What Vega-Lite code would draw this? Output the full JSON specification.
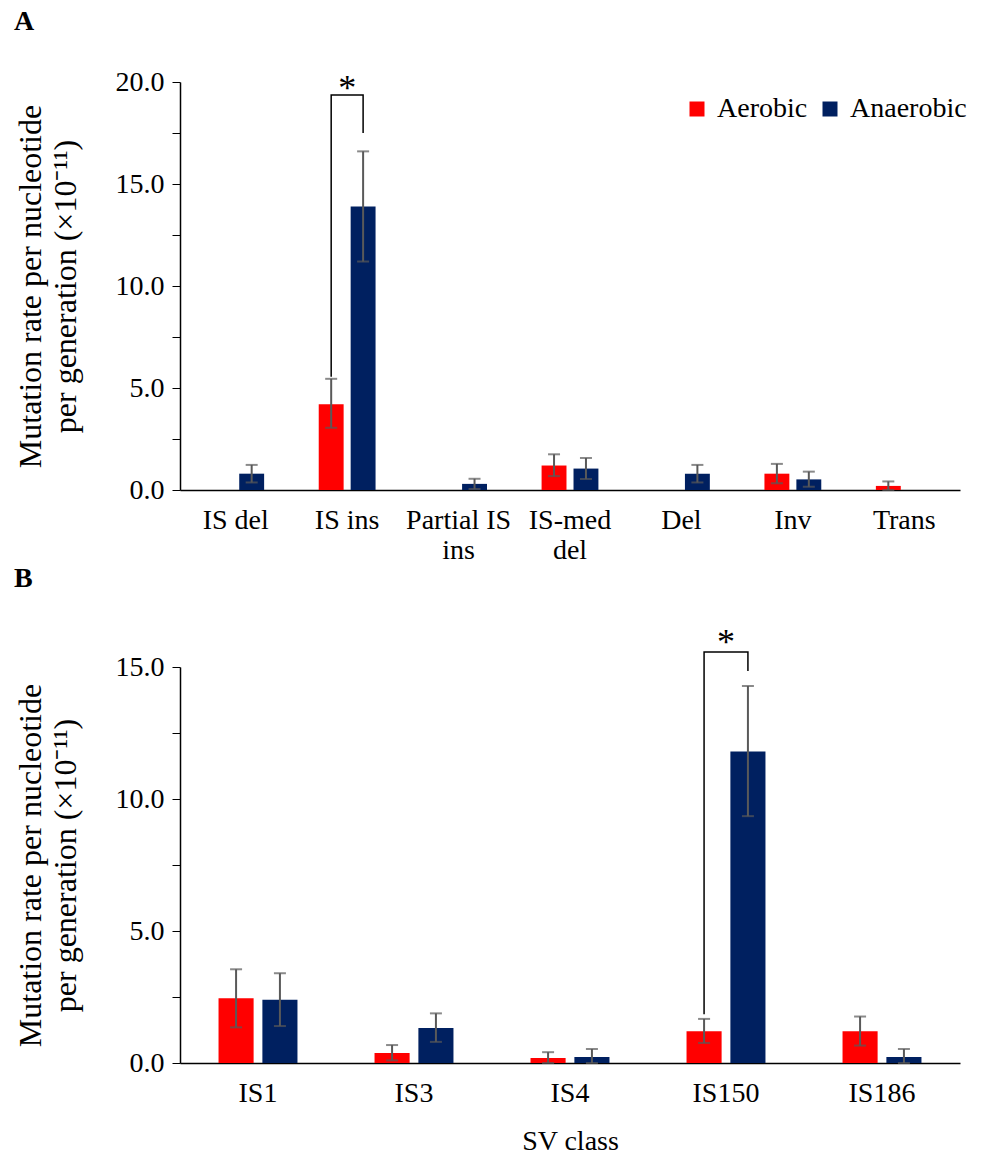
{
  "$schema": "https://vega.github.io/schema/vega-lite/v6.json",
  "padding": {"left": 14, "top": 8, "right": 5, "bottom": 2},
  "background": "white",
  "config": {
    "font": "Liberation Serif",
    "view": {"stroke": null},
    "axis": {"labelFont": "Liberation Serif", "titleFont": "Liberation Serif", "labelColor": "black", "titleColor": "black", "domainColor": "black", "tickColor": "black", "domainWidth": 1.5, "grid": false},
    "title": {"font": "Liberation Serif", "fontSize": 28, "fontWeight": "bold", "color": "black", "anchor": "start", "frame": "bounds"}
  },
  "datasets": {
    "a": [
      {"cat": "IS del", "group": "Anaerobic", "value": 0.8, "lo": 0.37, "hi": 1.23},
      {"cat": "IS ins", "group": "Aerobic", "value": 4.2, "lo": 3.05, "hi": 5.45},
      {"cat": "IS ins", "group": "Anaerobic", "value": 13.9, "lo": 11.2, "hi": 16.6},
      {"cat": "Partial IS ins", "group": "Anaerobic", "value": 0.3, "lo": 0.05, "hi": 0.55},
      {"cat": "IS-med del", "group": "Aerobic", "value": 1.2, "lo": 0.68, "hi": 1.75},
      {"cat": "IS-med del", "group": "Anaerobic", "value": 1.05, "lo": 0.54, "hi": 1.57},
      {"cat": "Del", "group": "Anaerobic", "value": 0.8, "lo": 0.37, "hi": 1.23},
      {"cat": "Inv", "group": "Aerobic", "value": 0.8, "lo": 0.33, "hi": 1.28},
      {"cat": "Inv", "group": "Anaerobic", "value": 0.52, "lo": 0.16, "hi": 0.9},
      {"cat": "Trans", "group": "Aerobic", "value": 0.2, "lo": 0.0, "hi": 0.42}
    ],
    "b": [
      {"cat": "IS1", "group": "Aerobic", "value": 2.45, "lo": 1.35, "hi": 3.55},
      {"cat": "IS1", "group": "Anaerobic", "value": 2.4, "lo": 1.4, "hi": 3.4},
      {"cat": "IS3", "group": "Aerobic", "value": 0.38, "lo": 0.1, "hi": 0.68},
      {"cat": "IS3", "group": "Anaerobic", "value": 1.33, "lo": 0.8, "hi": 1.88},
      {"cat": "IS4", "group": "Aerobic", "value": 0.19, "lo": 0.0, "hi": 0.41},
      {"cat": "IS4", "group": "Anaerobic", "value": 0.23, "lo": 0.0, "hi": 0.53},
      {"cat": "IS150", "group": "Aerobic", "value": 1.2, "lo": 0.76, "hi": 1.67},
      {"cat": "IS150", "group": "Anaerobic", "value": 11.8, "lo": 9.35, "hi": 14.28},
      {"cat": "IS186", "group": "Aerobic", "value": 1.2, "lo": 0.66, "hi": 1.76},
      {"cat": "IS186", "group": "Anaerobic", "value": 0.23, "lo": 0.0, "hi": 0.53}
    ],
    "bracketA": [
      {"cat": "IS ins", "group": "Aerobic", "y": 5.55, "ord": 1},
      {"cat": "IS ins", "group": "Aerobic", "y": 19.36, "ord": 2},
      {"cat": "IS ins", "group": "Anaerobic", "y": 19.36, "ord": 3},
      {"cat": "IS ins", "group": "Anaerobic", "y": 17.5, "ord": 4}
    ],
    "bracketB": [
      {"cat": "IS150", "group": "Aerobic", "y": 1.85, "ord": 1},
      {"cat": "IS150", "group": "Aerobic", "y": 15.57, "ord": 2},
      {"cat": "IS150", "group": "Anaerobic", "y": 15.57, "ord": 3},
      {"cat": "IS150", "group": "Anaerobic", "y": 14.85, "ord": 4}
    ],
    "starA": [{"cat": "IS ins", "y": 19.1, "t": "*"}],
    "starB": [{"cat": "IS150", "y": 15.5, "t": "*"}]
  },
  "vconcat": [
    {
      "title": {"text": "A", "offset": 32},
      "width": 780,
      "height": 408,
      "layer": [
        {
          "data": {"name": "a"},
          "mark": {"type": "bar"},
          "encoding": {
            "x": {"field": "cat", "type": "nominal", "sort": ["IS del", "IS ins", "Partial IS ins", "IS-med del", "Del", "Inv", "Trans"],
                  "scale": {"domain": ["IS del", "IS ins", "Partial IS ins", "IS-med del", "Del", "Inv", "Trans"], "paddingInner": 0.49, "paddingOuter": 0.245},
                  "axis": {"title": null, "ticks": false, "labelAngle": 0, "labelFontSize": 28, "labelPadding": 16, "labelLineHeight": 30,
                           "labelExpr": "datum.value == 'Partial IS ins' ? ['Partial IS', 'ins'] : datum.value == 'IS-med del' ? ['IS-med', 'del'] : datum.value"}},
            "xOffset": {"field": "group", "type": "nominal", "scale": {"domain": ["Aerobic", "Anaerobic"], "paddingInner": 0.22}},
            "y": {"field": "value", "type": "quantitative", "scale": {"domain": [0, 20], "nice": false},
                  "axis": {"title": ["Mutation rate per nucleotide", "per generation  (×10⁻¹¹)"], "titleFontSize": 32, "titleFontWeight": "normal", "titleLineHeight": 35, "titlePadding": 33,
                           "values": [0, 2.5, 5, 7.5, 10, 12.5, 15, 17.5, 20], "labelExpr": "datum.value % 5 == 0 ? format(datum.value, '.1f') : ''",
                           "labelFontSize": 28, "tickSize": 8, "labelPadding": 8}},
            "color": {"field": "group", "type": "nominal", "scale": {"domain": ["Aerobic", "Anaerobic"], "range": ["#FF0000", "#002060"]},
                      "legend": {"title": null, "orient": "none", "legendX": 503, "legendY": 13, "direction": "horizontal", "symbolType": "square", "symbolSize": 225, "symbolStrokeWidth": 0, "labelFontSize": 28, "columnPadding": 8, "labelOffset": 6}}
          }
        },
        {
          "data": {"name": "a"},
          "mark": {"type": "rule", "color": "#595959", "strokeWidth": 2},
          "encoding": {
            "x": {"field": "cat", "type": "nominal"},
            "xOffset": {"field": "group", "type": "nominal"},
            "y": {"field": "lo", "type": "quantitative"},
            "y2": {"field": "hi"}
          }
        },
        {
          "data": {"name": "a"},
          "mark": {"type": "tick", "color": "#595959", "thickness": 2, "size": 12},
          "encoding": {
            "x": {"field": "cat", "type": "nominal"},
            "xOffset": {"field": "group", "type": "nominal"},
            "y": {"field": "hi", "type": "quantitative"}
          }
        },
        {
          "data": {"name": "a"},
          "mark": {"type": "tick", "color": "#595959", "thickness": 2, "size": 12},
          "encoding": {
            "x": {"field": "cat", "type": "nominal"},
            "xOffset": {"field": "group", "type": "nominal"},
            "y": {"field": "lo", "type": "quantitative"}
          }
        },
        {
          "data": {"name": "bracketA"},
          "mark": {"type": "line", "color": "black", "strokeWidth": 1.5, "interpolate": "linear"},
          "encoding": {
            "x": {"field": "cat", "type": "nominal"},
            "xOffset": {"field": "group", "type": "nominal"},
            "y": {"field": "y", "type": "quantitative"},
            "order": {"field": "ord", "type": "quantitative"}
          }
        },
        {
          "data": {"name": "starA"},
          "mark": {"type": "text", "fontSize": 36, "baseline": "alphabetic", "color": "black"},
          "encoding": {
            "x": {"field": "cat", "type": "nominal"},
            "y": {"field": "y", "type": "quantitative"},
            "text": {"field": "t"}
          }
        }
      ]
    },
    {
      "title": {"text": "B", "offset": 32},
      "width": 780,
      "height": 396,
      "layer": [
        {
          "data": {"name": "b"},
          "mark": {"type": "bar"},
          "encoding": {
            "x": {"field": "cat", "type": "nominal", "sort": ["IS1", "IS3", "IS4", "IS150", "IS186"],
                  "scale": {"domain": ["IS1", "IS3", "IS4", "IS150", "IS186"], "paddingInner": 0.494, "paddingOuter": 0.247},
                  "axis": {"title": "SV class", "titleFontSize": 28, "titleFontWeight": "normal", "titlePadding": 20, "ticks": false, "labelAngle": 0, "labelFontSize": 28, "labelPadding": 16}},
            "xOffset": {"field": "group", "type": "nominal", "scale": {"domain": ["Aerobic", "Anaerobic"], "paddingInner": 0.2}},
            "y": {"field": "value", "type": "quantitative", "scale": {"domain": [0, 15], "nice": false},
                  "axis": {"title": ["Mutation rate per nucleotide", "per generation  (×10⁻¹¹)"], "titleFontSize": 32, "titleFontWeight": "normal", "titleLineHeight": 35, "titlePadding": 33,
                           "values": [0, 2.5, 5, 7.5, 10, 12.5, 15], "labelExpr": "datum.value % 5 == 0 ? format(datum.value, '.1f') : ''",
                           "labelFontSize": 28, "tickSize": 8, "labelPadding": 8}},
            "color": {"field": "group", "type": "nominal", "scale": {"domain": ["Aerobic", "Anaerobic"], "range": ["#FF0000", "#002060"]}, "legend": null}
          }
        },
        {
          "data": {"name": "b"},
          "mark": {"type": "rule", "color": "#595959", "strokeWidth": 2},
          "encoding": {
            "x": {"field": "cat", "type": "nominal"},
            "xOffset": {"field": "group", "type": "nominal"},
            "y": {"field": "lo", "type": "quantitative"},
            "y2": {"field": "hi"}
          }
        },
        {
          "data": {"name": "b"},
          "mark": {"type": "tick", "color": "#595959", "thickness": 2, "size": 12},
          "encoding": {
            "x": {"field": "cat", "type": "nominal"},
            "xOffset": {"field": "group", "type": "nominal"},
            "y": {"field": "hi", "type": "quantitative"}
          }
        },
        {
          "data": {"name": "b"},
          "mark": {"type": "tick", "color": "#595959", "thickness": 2, "size": 12},
          "encoding": {
            "x": {"field": "cat", "type": "nominal"},
            "xOffset": {"field": "group", "type": "nominal"},
            "y": {"field": "lo", "type": "quantitative"}
          }
        },
        {
          "data": {"name": "bracketB"},
          "mark": {"type": "line", "color": "black", "strokeWidth": 1.5, "interpolate": "linear"},
          "encoding": {
            "x": {"field": "cat", "type": "nominal"},
            "xOffset": {"field": "group", "type": "nominal"},
            "y": {"field": "y", "type": "quantitative"},
            "order": {"field": "ord", "type": "quantitative"}
          }
        },
        {
          "data": {"name": "starB"},
          "mark": {"type": "text", "fontSize": 36, "baseline": "alphabetic", "color": "black"},
          "encoding": {
            "x": {"field": "cat", "type": "nominal"},
            "y": {"field": "y", "type": "quantitative"},
            "text": {"field": "t"}
          }
        }
      ]
    }
  ],
  "spacing": 0,
  "resolve": {"scale": {"x": "independent", "y": "independent", "xOffset": "independent", "color": "independent"}}
}
